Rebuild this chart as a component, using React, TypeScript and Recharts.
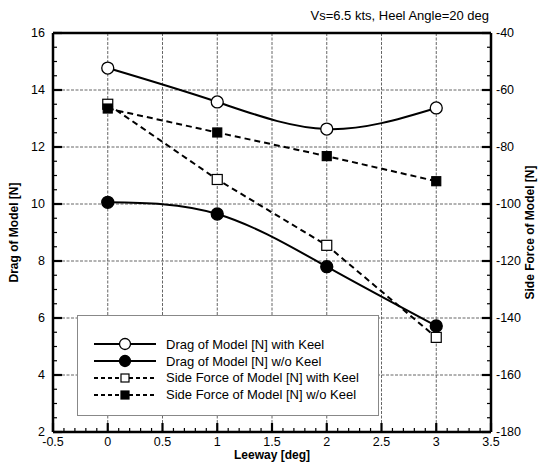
import React from 'react';
import {
  LineChart, Line, XAxis, YAxis, ReferenceLine,
} from 'recharts';

// values
const LEEWAY = [0, 1, 2, 3];
const DRAG_KEEL = [14.77, 13.58, 12.63, 13.37];
const DRAG_NO_KEEL = [10.06, 9.65, 7.8, 5.72];
const SIDE_KEEL = [-65, -91.4, -114.5, -146.8];
const SIDE_NO_KEEL = [-66.5, -74.9, -83.2, -92];

const X_TICKS = [-0.5, 0, 0.5, 1, 1.5, 2, 2.5, 3, 3.5];
const LEFT_TICKS = [2, 4, 6, 8, 10, 12, 14, 16];
const RIGHT_TICKS = [-180, -160, -140, -120, -100, -80, -60, -40];
// minor tick positions (labels only on the major ones)
const X_MINOR = Array.from({ length: 41 }, (_, i) => Math.round((-0.5 + i * 0.1) * 10) / 10);
const LEFT_MINOR = Array.from({ length: 29 }, (_, i) => 2 + i * 0.5);
const RIGHT_MINOR = Array.from({ length: 29 }, (_, i) => -180 + i * 5);

const TITLE = 'Vs=6.5 kts, Heel Angle=20 deg';
const X_LABEL = 'Leeway [deg]';
const LEFT_LABEL = 'Drag of Model [N]';
const RIGHT_LABEL = 'Side Force of Model [N]';

const data = LEEWAY.map((x, i) => ({
  leeway: x,
  dragKeel: DRAG_KEEL[i],
  dragNoKeel: DRAG_NO_KEEL[i],
  sideKeel: SIDE_KEEL[i],
  sideNoKeel: SIDE_NO_KEEL[i],
}));

type Kind = 'circle' | 'square';

const SERIES: { key: string; name: string; axis: string; dash?: string; kind: Kind; filled: boolean; curve: 'natural' | 'linear' }[] = [
  { key: 'dragKeel', name: 'Drag of Model [N] with Keel', axis: 'left', kind: 'circle', filled: false, curve: 'natural' },
  { key: 'dragNoKeel', name: 'Drag of Model [N] w/o Keel', axis: 'left', kind: 'circle', filled: true, curve: 'natural' },
  { key: 'sideKeel', name: 'Side Force of Model [N] with Keel', axis: 'right', dash: '6 4', kind: 'square', filled: false, curve: 'linear' },
  { key: 'sideNoKeel', name: 'Side Force of Model [N] w/o Keel', axis: 'right', dash: '6 4', kind: 'square', filled: true, curve: 'linear' },
];

const isMajor = (v: number, majors: number[]) => majors.some(m => Math.abs(m - v) < 1e-6);
const TICK_FONT = 12.5;

function BottomTick(props: any) {
  const { x, y, payload } = props;
  const major = isMajor(payload.value, X_TICKS);
  return (
    <g>
      <path d={`M${x},${y}V${y - (major ? 9 : 4)}`} stroke="#000" strokeWidth={major ? 2.2 : 1.2} />
      {major && (
        <text x={x} y={y + 5} dy="0.71em" textAnchor="middle" fontSize={TICK_FONT} fill="#000">{payload.value}</text>
      )}
    </g>
  );
}

function LeftTick(props: any) {
  const { x, y, payload } = props;
  const major = isMajor(payload.value, LEFT_TICKS);
  return (
    <g>
      <path d={`M${x},${y}H${x + (major ? 9 : 4)}`} stroke="#000" strokeWidth={major ? 2.2 : 1.2} />
      {major && (
        <text x={x - 8} y={y} dy="0.35em" textAnchor="end" fontSize={TICK_FONT} fill="#000">{payload.value}</text>
      )}
    </g>
  );
}

function RightTick(props: any) {
  const { x, y, payload } = props;
  const major = isMajor(payload.value, RIGHT_TICKS);
  return (
    <g>
      <path d={`M${x},${y}H${x - (major ? 9 : 4)}`} stroke="#000" strokeWidth={major ? 2.2 : 1.2} />
      {major && (
        <text x={x + 5} y={y} dy="0.35em" textAnchor="start" fontSize={TICK_FONT} fill="#000">{payload.value}</text>
      )}
    </g>
  );
}

function Marker({ cx, cy, kind, filled, small }: { cx: number; cy: number; kind: Kind; filled: boolean; small?: boolean }) {
  if (kind === 'circle') {
    return <circle cx={cx} cy={cy} r={small ? 5.5 : 6} fill={filled ? '#000' : '#fff'} stroke="#000" strokeWidth={1.3} />;
  }
  const s = small ? 8 : filled ? 9 : 10;
  return (
    <rect x={cx - s / 2} y={cy - s / 2} width={s} height={s}
      fill={filled ? '#000' : '#fff'} stroke="#000" strokeWidth={1.2} />
  );
}

function LegendBox() {
  return (
    <div style={{
      position: 'absolute', left: 77, top: 315, zIndex: 1,
      width: 302, height: 101, boxSizing: 'border-box', background: '#fff',
      border: '1px solid #888', paddingTop: 20, paddingLeft: 15,
    }}>
      {SERIES.map(s => (
        <div key={s.key} style={{ display: 'flex', alignItems: 'center', height: 16.8 }}>
          <svg width={64} height={14} style={{ display: 'block' }}>
            <line x1={1} y1={7} x2={63} y2={7} stroke="#000" strokeWidth={2}
              strokeDasharray={s.dash ? '4 3' : undefined} />
            <Marker cx={32} cy={7} kind={s.kind} filled={s.filled} small />
          </svg>
          <span style={{ marginLeft: 9, fontSize: 13, color: '#000', whiteSpace: 'nowrap' }}>{s.name}</span>
        </div>
      ))}
    </div>
  );
}

const labelStyle = { textAnchor: 'middle' as const, fontWeight: 'bold', fontSize: 12, fill: '#000' };
const frameLine = { stroke: '#000', strokeWidth: 2.5 };
const gridLine = { stroke: '#666', strokeDasharray: '3 1.5', strokeWidth: 1 };

export default function App() {
  const drawOrder = [SERIES[2], SERIES[3], SERIES[0], SERIES[1]];
  return (
    <div style={{ position: 'absolute', left: 0, top: 0, width: 538, height: 464, background: '#fff', fontFamily: '"Liberation Sans", Arial, sans-serif' }}>
      <div style={{ position: 'absolute', top: 8, right: 49, fontSize: 13, color: '#000', whiteSpace: 'nowrap', zIndex: 2 }}>
        {TITLE}
      </div>
      <LineChart width={538} height={464} data={data} margin={{ top: 33, right: 0, bottom: 0, left: 0 }}>
        {/* dotted grid at the major ticks */}
        {X_TICKS.slice(1, -1).map(v => (
          <ReferenceLine key={`gx${v}`} x={v} ifOverflow="visible" {...gridLine} />
        ))}
        {LEFT_TICKS.slice(1, -1).map(v => (
          <ReferenceLine key={`gy${v}`} y={v} ifOverflow="visible" {...gridLine} />
        ))}
        <XAxis
          dataKey="leeway" type="number" domain={[-0.5, 3.5]} ticks={X_MINOR} interval={0}
          height={32} tickLine={false} tickSize={0} tickMargin={0} axisLine={frameLine} tick={BottomTick}
          label={{ value: X_LABEL, position: 'insideBottom', offset: 5, style: labelStyle }}
        />
        <YAxis
          type="number" domain={[2, 16]} ticks={LEFT_MINOR} interval={0} width={53}
          tickLine={false} tickSize={0} tickMargin={0} axisLine={frameLine} tick={LeftTick}
          label={{ value: LEFT_LABEL, position: 'insideLeft', angle: -90, offset: 14, style: labelStyle }}
        />
        <YAxis
          yAxisId="right" orientation="right" type="number" domain={[-180, -40]} ticks={RIGHT_MINOR}
          interval={0} width={47} tickLine={false} tickSize={0} tickMargin={0} axisLine={frameLine} tick={RightTick}
          label={{ value: RIGHT_LABEL, position: 'insideRight', angle: -90, offset: 8, style: labelStyle }}
        />
        <ReferenceLine y={16} stroke="#000" strokeWidth={2.5} ifOverflow="visible" />
        {drawOrder.map(s => (
          <Line
            key={s.key}
            dataKey={s.key}
            name={s.name}
            yAxisId={s.axis === 'right' ? 'right' : 0}
            type={s.curve}
            stroke="#000"
            strokeWidth={2}
            strokeDasharray={s.dash}
            dot={(p: any) => <Marker key={`${s.key}-${p.index}`} cx={p.cx} cy={p.cy} kind={s.kind} filled={s.filled} />}
            activeDot={false}
            isAnimationActive={false}
          />
        ))}
      </LineChart>
      <LegendBox />
    </div>
  );
}
